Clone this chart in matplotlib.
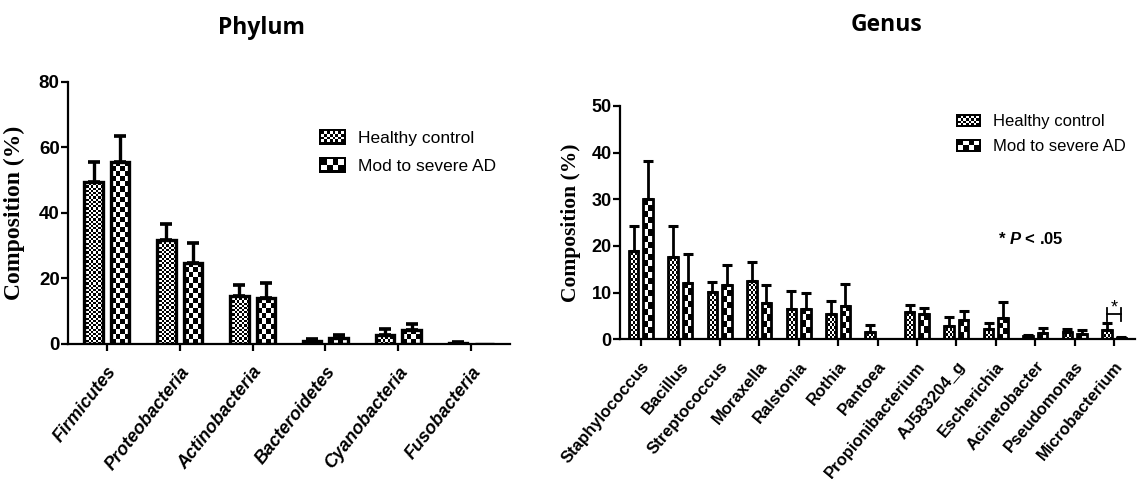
import numpy as np
import matplotlib
matplotlib.use('Agg')
import matplotlib.pyplot as plt
from matplotlib.patches import Rectangle
from matplotlib.legend_handler import HandlerBase

plt.rcParams['font.family'] = ['Liberation Sans', 'DejaVu Sans']
plt.rcParams['mathtext.fontset'] = 'custom'
plt.rcParams['mathtext.rm'] = 'Liberation Sans:bold'
plt.rcParams['mathtext.it'] = 'Liberation Sans:italic:bold'

# data
phyla = ['Firmicutes', 'Proteobacteria', 'Actinobacteria', 'Bacteroidetes',
         'Cyanobacteria', 'Fusobacteria']
phy_hc = [49.5, 31.7, 14.6, 1.0, 2.8, 0.4]
phy_hc_err = [6.0, 5.0, 3.4, 0.6, 1.9, 0.2]
phy_ad = [55.6, 24.8, 13.9, 1.9, 4.3, 0.0]
phy_ad_err = [7.8, 6.0, 4.8, 0.8, 1.7, 0.0]

genera = ['Staphylococcus', 'Bacillus', 'Streptococcus', 'Moraxella', 'Ralstonia',
          'Rothia', 'Pantoea', 'Propionibacterium', 'AJ583204_g', 'Escherichia',
          'Acinetobacter', 'Pseudomonas', 'Microbacterium']
gen_hc = [19.0, 17.7, 10.1, 12.4, 6.6, 5.5, 1.6, 5.8, 2.9, 2.3, 0.7, 1.5, 2.0]
gen_hc_err = [5.3, 6.6, 2.2, 4.2, 3.7, 2.8, 1.5, 1.5, 1.8, 1.2, 0.2, 0.8, 1.5]
gen_ad = [30.0, 12.1, 11.6, 7.8, 6.6, 7.2, 0.1, 5.4, 4.2, 4.6, 1.4, 1.1, 0.3]
gen_ad_err = [8.3, 6.2, 4.4, 3.8, 3.3, 4.6, 0.0, 1.3, 1.9, 3.5, 1.0, 0.8, 0.1]

series = ['Healthy control', 'Mod to severe AD']
sig_idx = 12  # Microbacterium, * P < .05


def checker(ax, bars, cell):
    for b in bars:
        x0, y0, w, h = b.get_x(), b.get_y(), b.get_width(), b.get_height()
        if h <= 0:
            continue
        p0 = ax.transData.transform((x0, y0))
        p1 = ax.transData.transform((x0 + w, y0 + h))
        nx = max(1, int(round((p1[0] - p0[0]) / cell[0])))
        ny = max(1, int(round((p1[1] - p0[1]) / cell[1])))
        arr = np.indices((ny, nx)).sum(axis=0) % 2
        im = ax.imshow(arr, cmap='gray', extent=(x0, x0 + w, y0, y0 + h),
                       origin='lower', interpolation='nearest', aspect='auto', zorder=2)
        im.set_clip_path(b)


class CheckerHandler(HandlerBase):
    def __init__(self, nx, ny):
        super().__init__()
        self.nx, self.ny = nx, ny

    def create_artists(self, legend, orig_handle, xdescent, ydescent, width, height,
                       fontsize, trans):
        x0, y0 = -xdescent, -ydescent
        arts = [Rectangle((x0, y0), width, height, facecolor='black', edgecolor='none',
                          transform=trans)]
        b = 0.16 * height
        cw = (width - 2 * b) / self.nx
        ch = (height - 2 * b) / self.ny
        for i in range(self.nx):
            for j in range(self.ny):
                if (i + j) % 2 == 0:
                    arts.append(Rectangle((x0 + b + i * cw, y0 + b + j * ch), cw, ch,
                                          facecolor='white', edgecolor='none',
                                          transform=trans))
        return arts


def panel(ax, cats, hc, hc_err, ad, ad_err, ymax, ystep, width, off, lw, cap,
          cells, fs_tick, fs_x, x_style, fs_ylab, rot):
    x = np.arange(len(cats))
    ax.set_xlim(-0.53, len(cats) - 0.47)
    ax.set_ylim(0, ymax)
    b1 = ax.bar(x - off, hc, width, facecolor='none', edgecolor='black', linewidth=lw, zorder=3)
    b2 = ax.bar(x + off, ad, width, facecolor='none', edgecolor='black', linewidth=lw, zorder=3)
    for xs, v, e in [(x - off, hc, hc_err), (x + off, ad, ad_err)]:
        v = np.array(v)
        e = np.array(e)
        m = e > 0
        ax.errorbar(xs[m], v[m], yerr=[np.zeros(m.sum()), e[m]], fmt='none',
                    ecolor='black', elinewidth=lw, capsize=cap, capthick=lw * 1.1,
                    zorder=4)
    checker(ax, b1, cells[0])
    checker(ax, b2, cells[1])
    for s in ['top', 'right']:
        ax.spines[s].set_visible(False)
    for s in ['left', 'bottom']:
        ax.spines[s].set_linewidth(1.6)
    ax.set_yticks(np.arange(0, ymax + 1, ystep))
    ax.tick_params(axis='y', length=5, width=1.6, pad=1, labelsize=fs_tick)
    ax.tick_params(axis='x', length=5, width=1.6, pad=9)
    for t in ax.get_yticklabels():
        t.set_fontweight('bold')
    ax.set_xticks(x)
    ax.set_xticklabels(cats, rotation=rot, ha='right', va='top', rotation_mode='anchor',
                       fontsize=fs_x, fontweight='bold', fontstyle=x_style)
    ax.set_ylabel('Composition (%)', family='Liberation Serif', fontweight='bold',
                  fontsize=fs_ylab)
    return b1, b2


fig = plt.figure(figsize=(11.45, 4.88), dpi=100)
W, H = 1145, 488
ax1 = fig.add_axes([68 / W, 1 - 344 / H, 442 / W, 262.3 / H])
ax2 = fig.add_axes([620 / W, 1 - 339.3 / H, 515 / W, 233.3 / H])

panel(ax1, phyla, phy_hc, phy_hc_err, phy_ad, phy_ad_err, 80, 20,
      0.25, 0.18, 2.4, 4.5, ((2.2, 2.2), (5, 5)), 13.5, 13, 'italic', 17, 52)
panel(ax2, genera, gen_hc, gen_hc_err, gen_ad, gen_ad_err, 50, 10,
      0.24, 0.185, 2.0, 3.5, ((2, 2.5), (4, 6)), 13, 12, 'normal', 15.5, 50)
ax1.yaxis.set_label_coords(-0.097, 0.5)
ax2.yaxis.set_label_coords(-0.075, 0.5)

hc_h, ad_h = Rectangle((0, 0), 1, 1), Rectangle((0, 0), 1, 1)
hmap = {hc_h: CheckerHandler(8, 4), ad_h: CheckerHandler(4, 2)}
ax1.legend([hc_h, ad_h], series, handler_map=hmap, loc='upper left',
           bbox_to_anchor=(319 / W, 1 - 129 / H), bbox_transform=fig.transFigure,
           frameon=False, fontsize=12.5, handlelength=1.56, handleheight=1.0,
           handletextpad=0.7, labelspacing=0.65, borderpad=0, borderaxespad=0)
ax2.legend([hc_h, ad_h], series, handler_map=hmap, loc='upper left',
           bbox_to_anchor=(956 / W, 1 - 114 / H), bbox_transform=fig.transFigure,
           frameon=False, fontsize=12, handlelength=1.5, handleheight=0.85,
           handletextpad=0.7, labelspacing=0.55, borderpad=0, borderaxespad=0)

# significance bracket on Microbacterium
off = 0.185
yb = gen_hc[sig_idx] + gen_hc_err[sig_idx] + 2.0
ax2.plot([sig_idx - off, sig_idx + off], [yb, yb], color='black', lw=1.3)
for xx in [sig_idx - off, sig_idx + off]:
    ax2.plot([xx, xx], [yb - 1.5, yb + 1.3], color='black', lw=1.3)
ax2.text(sig_idx, yb - 0.6, '*', ha='center', va='bottom', fontsize=13)
ax2.text(9.9, 21.4, r'* $P$ < .05', ha='center', va='center', fontsize=12,
         fontweight='bold')

fig.text(261 / W, 1 - 28 / H, 'Phylum', ha='center', va='center', fontsize=16.5,
         fontweight='bold', family='Open Sans')
fig.text(886 / W, 1 - 25 / H, 'Genus', ha='center', va='center', fontsize=16.5,
         fontweight='bold', family='Open Sans')

fig.savefig('out.png', dpi=100)
